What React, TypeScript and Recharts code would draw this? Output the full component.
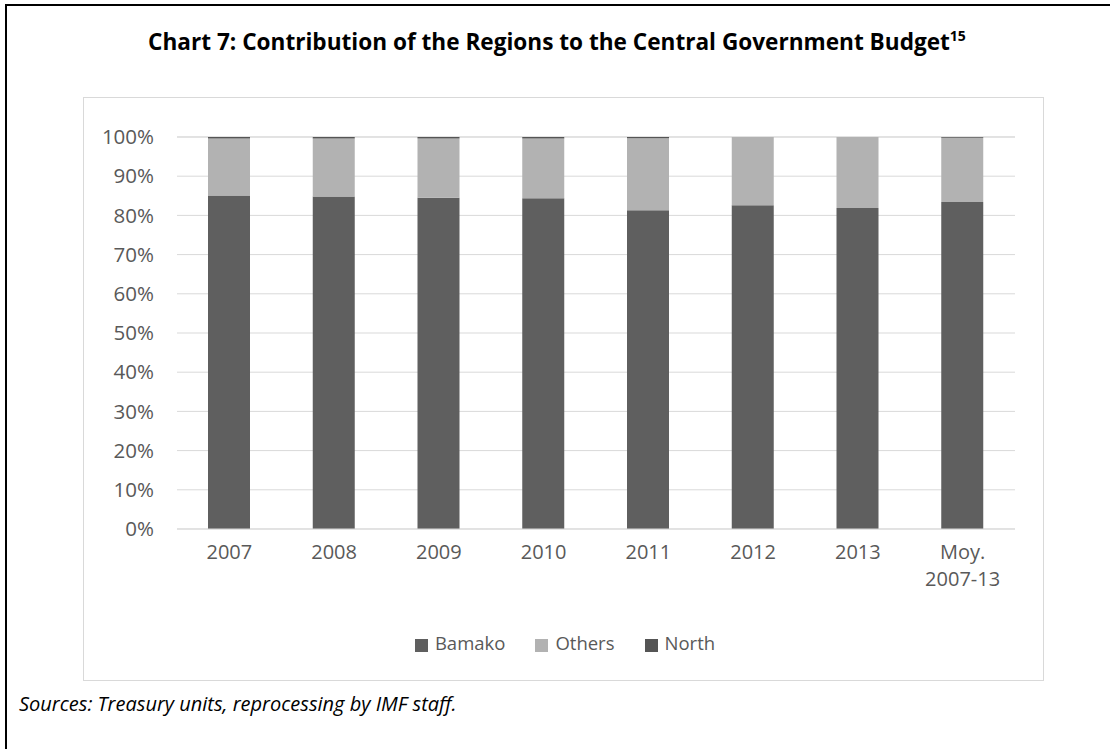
import { BarChart, Bar, XAxis, YAxis, CartesianGrid, Legend } from 'recharts';

const categories = ['2007', '2008', '2009', '2010', '2011', '2012', '2013', 'Moy.\n2007-13'];
const bamako = [85.1, 84.8, 84.5, 84.4, 81.3, 82.6, 81.9, 83.4];
const others = [14.5, 14.8, 15.1, 15.2, 18.4, 17.4, 18.1, 16.4];
const north = [0.4, 0.4, 0.4, 0.4, 0.3, 0, 0, 0.2];
const yTicks = [0, 10, 20, 30, 40, 50, 60, 70, 80, 90, 100];
const seriesOrder = ['Bamako', 'Others', 'North'];

const data = categories.map((name, i) => ({
  name,
  Bamako: bamako[i],
  Others: others[i],
  North: north[i],
}));

const FONT = '"Open Sans", sans-serif';
const TEXT_GREY = '#595959';

function CategoryTick(props: any) {
  const { x, y, payload } = props;
  const lines = String(payload.value).split('\n');
  return (
    <g>
      {lines.map((line: string, i: number) => (
        <text
          key={i}
          x={x}
          y={y + 22 + i * 27}
          textAnchor="middle"
          fill={TEXT_GREY}
          fontSize={20}
          fontFamily={FONT}
        >
          {line}
        </text>
      ))}
    </g>
  );
}

export default function App() {
  return (
    <div
      style={{
        position: 'absolute',
        left: 0,
        top: 0,
        width: 1110,
        height: 749,
        background: '#fff',
        overflow: 'hidden',
        fontFamily: FONT,
      }}
    >
      <div
        style={{
          position: 'absolute',
          left: 5,
          top: 4,
          width: 1120,
          height: 760,
          borderTop: '2px solid #000',
          borderLeft: '2px solid #000',
        }}
      />
      <div
        style={{
          position: 'absolute',
          left: 0,
          width: 1110,
          top: 26,
          textAlign: 'center',
          fontWeight: 700,
          fontSize: 22.6,
          color: '#000',
          paddingLeft: 2,
        }}
      >
        Chart 7: Contribution of the Regions to the Central Government Budget
        <sup style={{ fontSize: 14 }}>15</sup>
      </div>
      <div
        style={{
          position: 'absolute',
          left: 83,
          top: 97,
          width: 959,
          height: 582,
          border: '1px solid #d9d9d9',
        }}
      />
      <div style={{ position: 'absolute', left: 83, top: 97 }}>
        <BarChart
          width={960}
          height={583}
          data={data}
          margin={{ top: 40, right: 28, left: 0, bottom: 91 }}
          barSize={42}
        >
          <CartesianGrid vertical={false} stroke="#d9d9d9" strokeWidth={1} />
          <XAxis
            dataKey="name"
            axisLine={{ stroke: '#d9d9d9' }}
            tickLine={false}
            tick={<CategoryTick />}
            interval={0}
            height={60}
          />
          <YAxis
            domain={[0, 100]}
            ticks={yTicks}
            tickFormatter={(v) => `${v}%`}
            axisLine={false}
            tickLine={false}
            tickSize={0}
            tickMargin={23}
            width={94}
            tick={{ fill: TEXT_GREY, fontSize: 20.5, fontFamily: FONT }}
          />
          <Legend
            verticalAlign="middle"
            align="center"
            iconType="square"
            iconSize={13}
            itemSorter={(item: any) => seriesOrder.indexOf(String(item.value))}
            wrapperStyle={{ top: 533, left: 17, width: 960, fontSize: 18.5, fontFamily: FONT }}
            formatter={(value) => (
              <span style={{ color: TEXT_GREY, marginLeft: 3, marginRight: 20 }}>{value}</span>
            )}
          />
          <Bar dataKey="Bamako" stackId="a" fill="#5f5f5f" isAnimationActive={false} />
          <Bar dataKey="Others" stackId="a" fill="#b2b2b2" isAnimationActive={false} />
          <Bar dataKey="North" stackId="a" fill="#555555" isAnimationActive={false} />
        </BarChart>
      </div>
      <div
        style={{
          position: 'absolute',
          left: 19,
          top: 690,
          fontStyle: 'italic',
          fontSize: 20,
          color: '#000',
        }}
      >
        Sources: Treasury units, reprocessing by IMF staff.
      </div>
    </div>
  );
}
